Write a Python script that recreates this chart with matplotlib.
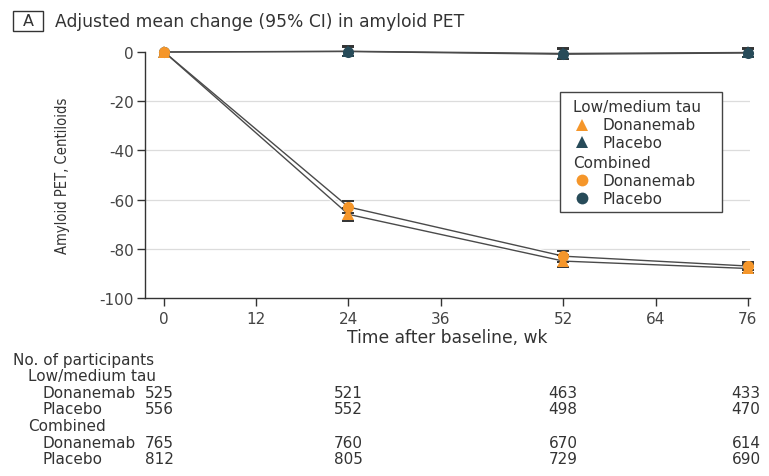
import matplotlib
matplotlib.use("Agg")
import matplotlib.pyplot as plt
from matplotlib.lines import Line2D
from matplotlib.patches import Rectangle

plt.rcParams['axes.unicode_minus'] = False
plt.rcParams['font.family'] = ['DejaVu Sans']

# Weeks after baseline
weeks = [0, 24, 52, 76]

# Adjusted mean change in amyloid PET (Centiloids)
lowmed_don = [0, -66, -85, -88]
lowmed_pbo = [0, 0.3, -0.6, -0.2]
comb_don = [0, -63, -83, -87]
comb_pbo = [0, 0.2, -0.9, -0.4]

# Half-widths of 95% CIs
lowmed_don_ci = [0, 2.5, 2.5, 2.0]
lowmed_pbo_ci = [0, 2.0, 2.2, 2.0]
comb_don_ci = [0, 2.3, 2.3, 1.8]
comb_pbo_ci = [0, 1.8, 2.0, 1.8]

xticks = [0, 12, 24, 36, 52, 64, 76]
yticks = [0, -20, -40, -60, -80, -100]

# Participants at risk
row_labels = ["Donanemab", "Placebo", "Donanemab", "Placebo"]
group_labels = ["Low/medium tau", "Combined"]
n_lowmed_don = [525, 521, 463, 433]
n_lowmed_pbo = [556, 552, 498, 470]
n_comb_don = [765, 760, 670, 614]
n_comb_pbo = [812, 805, 729, 690]

ORANGE = "#F5962A"
TEAL = "#274B59"
LINE = "#4a4a4a"
TXT = "#333333"

W, H = 769, 477
fig = plt.figure(figsize=(W / 100, H / 100), dpi=100)

def fx(px):
    return px / W

def fy(py):
    return 1 - py / H

ax = fig.add_axes([fx(145), fy(299), fx(750) - fx(145), fy(53) - fy(299)])
ax.set_xlim(-2.5, 76.3)
ax.set_ylim(-100, 0)

for y in [-20, -40, -60, -80]:
    ax.axhline(y, color="#dcdcdc", lw=0.9, zorder=0)

series = [
    (comb_pbo, comb_pbo_ci, TEAL, 'o'),
    (lowmed_pbo, lowmed_pbo_ci, TEAL, '^'),
    (comb_don, comb_don_ci, ORANGE, 'o'),
    (lowmed_don, lowmed_don_ci, ORANGE, '^'),
]
for vals, ci, col, mk in series:
    ax.plot(weeks, vals, color="white", lw=2.6, zorder=2, clip_on=False,
            solid_capstyle='round')
for vals, ci, col, mk in series:
    ax.plot(weeks, vals, color=LINE, lw=1.0, zorder=3, clip_on=False)
for vals, ci, col, mk in series:
    ax.errorbar(weeks[1:], vals[1:], yerr=ci[1:], fmt='none', ecolor="#333333",
                elinewidth=1.2, capsize=4.5, capthick=1.4, zorder=4, clip_on=False)
    ax.plot(weeks, vals, linestyle='none', marker=mk, color=col, ms=8,
            markeredgewidth=0, zorder=5, clip_on=False)

for s in ['top', 'right']:
    ax.spines[s].set_visible(False)
for s in ['left', 'bottom']:
    ax.spines[s].set_color("#333333")
    ax.spines[s].set_linewidth(1.0)

ax.set_xticks(xticks)
ax.set_xticklabels([str(v) for v in xticks])
ax.set_yticks(yticks)
ax.set_yticklabels([str(v) for v in yticks])
ax.tick_params(axis='x', length=6, width=1.0, color="#333333", labelsize=11,
               labelcolor="#444444", pad=3)
ax.tick_params(axis='y', length=6, width=1.0, color="#333333", labelsize=11,
               labelcolor="#444444", pad=2)
ax.set_xlabel("Time after baseline, wk", fontsize=12.3, color=TXT)
ax.xaxis.set_label_coords(0.5, (299 - 329) / 246, transform=ax.transAxes)
ax.set_ylabel("Amyloid PET, Centiloids", fontsize=10.5, color=TXT,
              fontstretch='condensed')
ax.yaxis.set_label_coords((70 - 145) / 605, 0.5)

# Panel title
fig.patches.append(Rectangle((fx(13), fy(32)), fx(30), fy(12) - fy(32),
                             transform=fig.transFigure, fill=False,
                             edgecolor="#333333", lw=1.0))
fig.text(fx(28), fy(22), "A", ha='center', va='center', fontsize=11.5,
         color=TXT)
fig.text(fx(55), fy(22), "Adjusted mean change (95% CI) in amyloid PET",
         ha='left', va='center', fontsize=12.3, color=TXT)

# Legend
fig.patches.append(Rectangle((fx(560), fy(213)), fx(722) - fx(560), fy(93) - fy(213),
                             transform=fig.transFigure, facecolor="white",
                             edgecolor="#444444", lw=1.0, zorder=10))
leg_rows = [
    (108, None, None, "Low/medium tau"),
    (126, ORANGE, '^', "Donanemab"),
    (143, TEAL, '^', "Placebo"),
    (164, None, None, "Combined"),
    (181, ORANGE, 'o', "Donanemab"),
    (199, TEAL, 'o', "Placebo"),
]
for py, col, mk, lab in leg_rows:
    if mk is None:
        fig.text(fx(573), fy(py), lab, ha='left', va='center', fontsize=11,
                 color=TXT, zorder=11)
    else:
        fig.add_artist(Line2D([fx(582)], [fy(py)], marker=mk, color=col, ms=8.5,
                              markeredgewidth=0, linestyle='none',
                              transform=fig.transFigure, zorder=11))
        fig.text(fx(603), fy(py), lab, ha='left', va='center', fontsize=11,
                 color=TXT, zorder=11)

# Number at risk table
tsize = 11
fig.text(fx(13), fy(360), "No. of participants", ha='left', va='center',
         fontsize=tsize, color=TXT)
col_x = [159, 348, 563, 746]
rows = [
    (377, 28, group_labels[0], None),
    (394, 43, row_labels[0], n_lowmed_don),
    (410, 43, row_labels[1], n_lowmed_pbo),
    (427, 28, group_labels[1], None),
    (444, 43, row_labels[2], n_comb_don),
    (460, 43, row_labels[3], n_comb_pbo),
]
for py, px, lab, nums in rows:
    fig.text(fx(px), fy(py), lab, ha='left', va='center', fontsize=tsize,
             color=TXT)
    if nums is not None:
        for cx, n in zip(col_x, nums):
            fig.text(fx(cx), fy(py), str(n), ha='center', va='center',
                     fontsize=tsize, color=TXT)

fig.savefig("out.png", dpi=100, facecolor="white")
